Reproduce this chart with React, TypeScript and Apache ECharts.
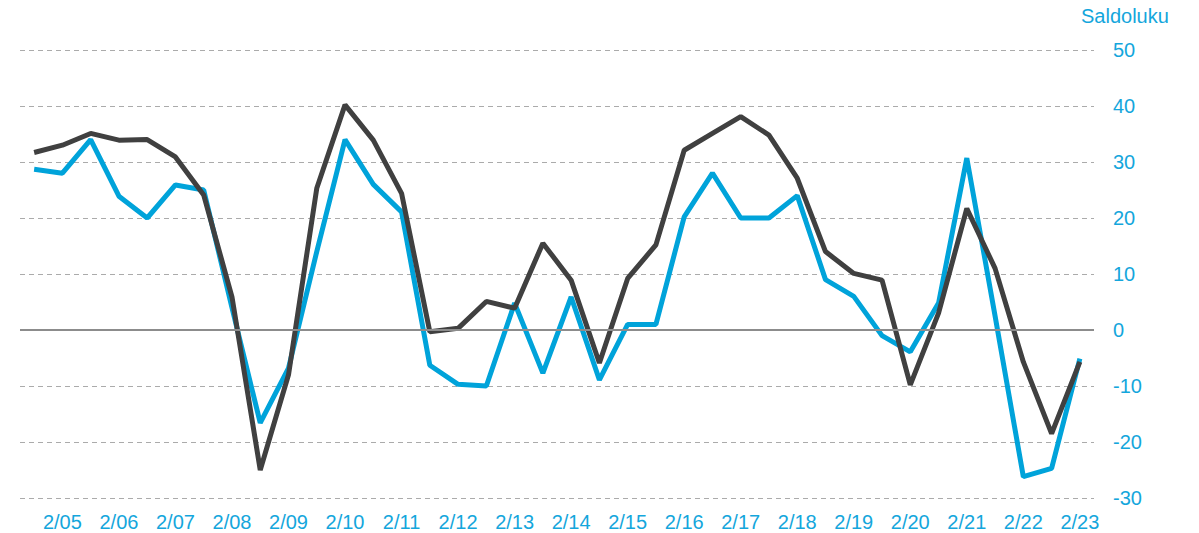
import React, { useEffect, useRef } from "react";
import * as echarts from "echarts";

const categories = [
  "4/04", "2/05", "4/05", "2/06", "4/06", "2/07", "4/07", "2/08", "4/08", "2/09",
  "4/09", "2/10", "4/10", "2/11", "4/11", "2/12", "4/12", "2/13", "4/13", "2/14",
  "4/14", "2/15", "4/15", "2/16", "4/16", "2/17", "4/17", "2/18", "4/18", "2/19",
  "4/19", "2/20", "4/20", "2/21", "4/21", "2/22", "4/22", "2/23",
];

const blueSeries = [
  28.7, 28.0, 34.0, 23.9, 20.0, 25.9, 25.0, 4.0, -16.6, -6.8,
  14.0, 34.0, 26.0, 21.1, -6.3, -9.7, -10.0, 4.8, -7.7, 5.9,
  -8.9, 1.0, 1.0, 20.2, 28.0, 20.0, 20.0, 24.0, 9.0, 6.0,
  -1.0, -3.9, 4.8, 30.7, 2.5, -26.2, -24.7, -5.1,
];

const darkSeries = [
  31.7, 33.0, 35.1, 33.9, 34.0, 30.9, 24.1, 5.9, -25.0, -8.0,
  25.3, 40.2, 33.9, 24.4, -0.3, 0.3, 5.1, 3.9, 15.5, 8.9,
  -5.9, 9.2, 15.2, 32.1, 35.1, 38.1, 34.8, 27.1, 14.0, 10.1,
  8.9, -9.8, 3.0, 21.7, 11.0, -5.7, -18.5, -5.7,
];

const yMin = -30;
const yMax = 50;
const yStep = 10;
const axisTitle = "Saldoluku";

const BLUE = "#00A3DA";
const TEXT_BLUE = "#14A6DC";
const DARK = "#404040";
const FONT = "'Liberation Sans', Arial, sans-serif";

export default function App() {
  const ref = useRef<HTMLDivElement>(null);

  useEffect(() => {
    if (!ref.current) return;
    const chart = echarts.init(ref.current, undefined, { renderer: "svg" });
    chart.setOption({
      animation: false,
      backgroundColor: "#ffffff",
      title: {
        text: axisTitle,
        left: 1076,
        top: 1,
        textStyle: { color: TEXT_BLUE, fontSize: 20, fontWeight: "normal", fontFamily: FONT },
      },
      grid: { left: 20, right: 105, top: 50, bottom: 35, containLabel: false },
      xAxis: {
        type: "category",
        data: categories,
        boundaryGap: true,
        axisLine: { show: false },
        axisTick: { show: false },
        splitLine: { show: false },
        axisLabel: {
          interval: (i: number) => i % 2 === 1,
          color: TEXT_BLUE,
          fontSize: 20,
          fontFamily: FONT,
          margin: 14,
        },
      },
      yAxis: {
        type: "value",
        position: "right",
        min: yMin,
        max: yMax,
        interval: yStep,
        axisLine: { show: false },
        axisTick: { show: false },
        axisLabel: {
          color: TEXT_BLUE,
          fontSize: 20,
          fontFamily: FONT,
          align: "left",
          margin: 19,
        },
        splitLine: {
          show: true,
          lineStyle: { color: "#ababab", width: 1, type: [5, 4] },
        },
      },
      series: [
        {
          type: "line",
          data: [],
          z: 1,
          silent: true,
          markLine: {
            silent: true,
            symbol: "none",
            label: { show: false },
            lineStyle: { color: "#8c8c8c", width: 2, type: "solid" },
            data: [{ yAxis: 0 }],
          },
        },
        {
          name: "blue",
          type: "line",
          data: blueSeries,
          showSymbol: false,
          symbol: "none",
          z: 2,
          lineStyle: { color: BLUE, width: 5 },
        },
        {
          name: "dark",
          type: "line",
          data: darkSeries,
          showSymbol: false,
          symbol: "none",
          z: 3,
          lineStyle: { color: DARK, width: 5 },
        },
      ],
    });
    return () => chart.dispose();
  }, []);

  return (
    <div
      ref={ref}
      style={{ position: "fixed", left: 0, top: 0, width: 1199, height: 533 }}
    />
  );
}
